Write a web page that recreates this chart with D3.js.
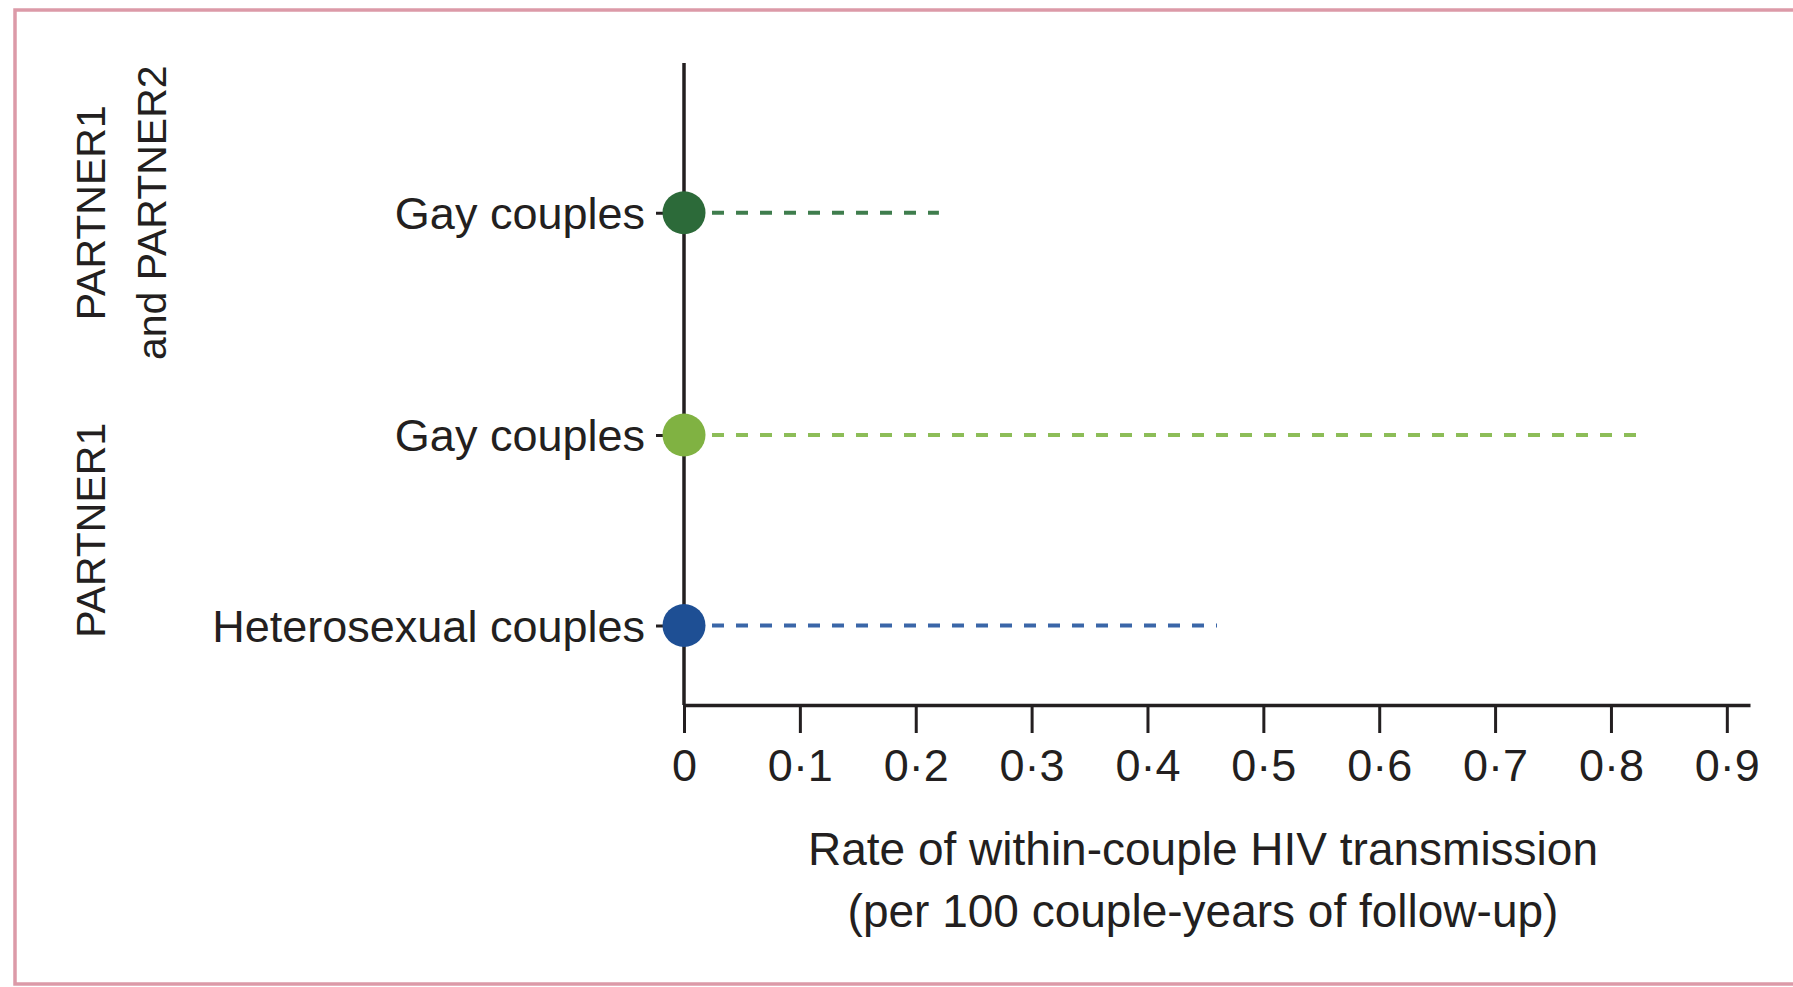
<!DOCTYPE html>
<html>
<head>
<meta charset="utf-8">
<script src="https://cdn.jsdelivr.net/npm/d3@7"></script>
<style>
  body { margin: 0; background: #fff; }
  svg { display: block; }
  .lbl { font-family: "Liberation Sans", Arial, sans-serif; fill: #231f20; }
</style>
</head>
<body>
<div id="chart"></div>
<script>
// data
const groups = ['PARTNER1 and PARTNER2', 'PARTNER1']
const groupLines = [['PARTNER1', 'and PARTNER2'], ['PARTNER1']]
const rowGroup = ['PARTNER1 and PARTNER2', 'PARTNER1', 'PARTNER1']
const rowLabels = ['Gay couples', 'Gay couples', 'Heterosexual couples']
const estimates = [0, 0, 0]
const upperCI = [0.22, 0.83, 0.46]
const rowColors = ['#2c6a39', '#80b242', '#1e4f94']
const dashColors = ['#3f7d4d', '#8dbd58', '#3a66a8']
const xTicks = [0, 0.1, 0.2, 0.3, 0.4, 0.5, 0.6, 0.7, 0.8, 0.9]
const xTitle = ['Rate of within-couple HIV transmission', '(per 100 couple-years of follow-up)']

const W = 1793
const H = 987
const svg = d3.select('#chart').append('svg')
  .attr('width', W)
  .attr('height', H)

// 外框 (right edge is cut off in the original)
svg.append('path')
  .attr('d', `M${W + 10},10 H15 V984 H${W + 10}`)
  .attr('fill', 'none')
  .attr('stroke', '#dc9aa8')
  .attr('stroke-width', 3.5)

const x = d3.scaleLinear().domain([0, 0.92]).range([684, 1750])
const axisY = 705
const axisTop = 63

// group band, then rows inside each group
const gScale = d3.scaleBand().domain(groups).range([117.5, 625.5]).paddingInner(0.4)
const rows = rowLabels.map((d, i) => ({
  key: i + '',
  label: d,
  group: rowGroup[i],
  est: estimates[i],
  hi: upperCI[i],
  color: rowColors[i],
  dash: dashColors[i]
}))
const rowY = {}
groups.forEach(g => {
  const keys = rows.filter(r => r.group === g).map(r => r.key)
  const inner = d3.scalePoint().domain(keys)
    .range([gScale(g), gScale(g) + gScale.bandwidth()])
    .padding(keys.length === 1 ? 0.5 : 0)
  keys.forEach(k => { rowY[k] = inner(k) })
})
const y = d3.scaleOrdinal(rows.map(r => r.key), rows.map(r => rowY[r.key]))

// y axis: category labels with short ticks
const yAxis = svg.append('g')
  .attr('transform', `translate(${x(0)},0)`)
  .call(d3.axisLeft(y).tickSize(28).tickPadding(11)
    .tickFormat(k => rows[+k].label))
yAxis.select('.domain').remove()
yAxis.selectAll('.tick line').attr('stroke', '#231f20').attr('stroke-width', 3)
yAxis.selectAll('.tick text')
  .attr('class', 'lbl')
  .style('font-size', '45px')
  .attr('dy', '0.35em')

svg.append('line')
  .attr('x1', x(0)).attr('x2', x(0))
  .attr('y1', axisTop).attr('y2', axisY)
  .attr('stroke', '#231f20')
  .attr('stroke-width', 3.5)

// x axis
const xAxis = svg.append('g')
  .attr('transform', `translate(0,${axisY})`)
  .call(d3.axisBottom(x).tickValues(xTicks).tickSize(28).tickSizeOuter(0).tickPadding(16)
    .tickFormat(d => d === 0 ? '0' : d3.format('.1f')(d).replace('.', '·')))
xAxis.select('.domain').attr('stroke', '#231f20').attr('stroke-width', 3.5)
xAxis.selectAll('.tick line').attr('stroke', '#231f20').attr('stroke-width', 3)
xAxis.selectAll('.tick text')
  .attr('class', 'lbl')
  .style('font-size', '45px')

svg.selectAll('.xtitle')
  .data(xTitle)
  .enter()
  .append('text')
  .attr('class', 'lbl xtitle')
  .attr('x', 1203)
  .attr('y', (d, i) => 865 + i * 62)
  .attr('text-anchor', 'middle')
  .style('font-size', '46px')
  .text(d => d)

// 置信区间虚线 + 点
const marks = svg.append('g')
marks.selectAll('.ci')
  .data(rows)
  .enter()
  .append('line')
  .attr('class', 'ci')
  .attr('x1', d => x(d.est))
  .attr('x2', d => x(d.hi))
  .attr('y1', d => y(d.key))
  .attr('y2', d => y(d.key))
  .attr('stroke', d => d.dash)
  .attr('stroke-width', 4)
  .attr('stroke-dasharray', '12,12')
  .attr('stroke-dashoffset', -4)
marks.selectAll('.pt')
  .data(rows)
  .enter()
  .append('circle')
  .attr('class', 'pt')
  .attr('cx', d => x(d.est))
  .attr('cy', d => y(d.key))
  .attr('r', 21.5)
  .attr('fill', d => d.color)

// group labels (rotated)
groups.forEach((g, gi) => {
  const cy = gScale(g) + gScale.bandwidth() / 2
  const lines = groupLines[gi]
  svg.append('text')
    .attr('class', 'lbl')
    .attr('transform', `translate(105,${cy}) rotate(-90)`)
    .attr('text-anchor', 'middle')
    .style('font-size', '41px')
    .selectAll('tspan')
    .data(lines)
    .enter()
    .append('tspan')
    .attr('x', 0)
    .attr('y', (d, i) => i * 61)
    .text(d => d)
})
</script>
</body>
</html>
